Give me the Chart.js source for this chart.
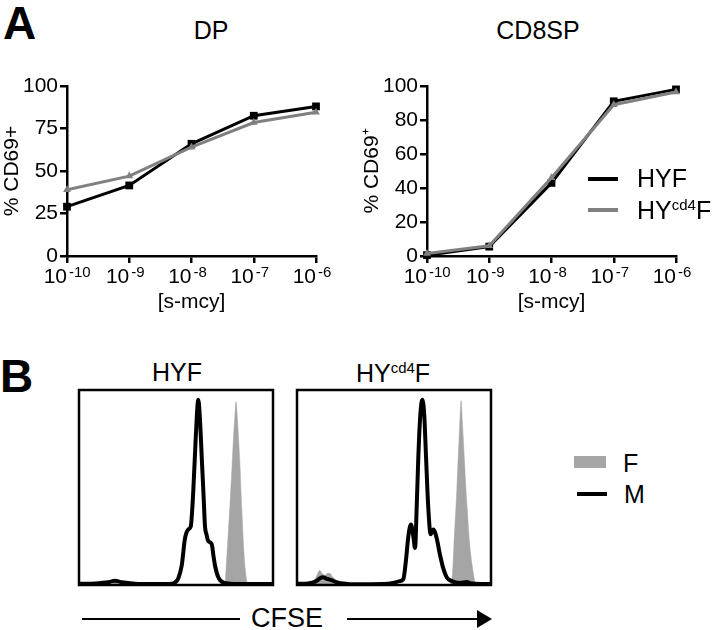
<!DOCTYPE html>
<html>
<head>
<meta charset="utf-8">
<script src="https://cdn.jsdelivr.net/npm/chart.js@4.4.1/dist/chart.umd.min.js"></script>
<style>
  body { margin: 0; background: #fff; }
  #fig { position: relative; width: 720px; height: 630px; overflow: hidden;
         font-family: "Liberation Sans", Arial, sans-serif; color: #000; }
  .t { position: absolute; line-height: 1; white-space: nowrap; }
  .c { transform: translateX(-50%); }
  .sup { font-size: 15px; vertical-align: 9px; }
  canvas { position: absolute; }
  .bar { position: absolute; }
</style>
</head>
<body>
<div id="fig">
  <!-- panel A -->
  <div class="t" style="left:3px;top:0px;font-size:46px;font-weight:bold">A</div>
  <div class="t c" style="left:211px;top:18px;font-size:25px">DP</div>
  <div class="t c" style="left:538px;top:18px;font-size:25px">CD8SP</div>
  <canvas id="dp" width="345" height="260" style="left:0;top:60px"></canvas>
  <canvas id="cd8" width="345" height="260" style="left:360px;top:60px"></canvas>

  <div class="bar" style="left:588px;top:177px;width:30px;height:4px;background:#000"></div>
  <div class="bar" style="left:588px;top:208px;width:30px;height:4px;background:#808080"></div>
  <div class="t" style="left:637px;top:166px;font-size:25px">HYF</div>
  <div class="t" style="left:637px;top:197px;font-size:25px">HY<span class="sup">cd4</span>F</div>

  <!-- panel B -->
  <div class="t" style="left:0px;top:353px;font-size:46px;font-weight:bold">B</div>
  <div class="t c" style="left:177px;top:360px;font-size:25px">HYF</div>
  <div class="t c" style="left:393px;top:360px;font-size:25px">HY<span class="sup">cd4</span>F</div>
  <canvas id="h1" width="200" height="201" style="left:76px;top:387px"></canvas>
  <canvas id="h2" width="200" height="201" style="left:294px;top:387px"></canvas>

  <div class="bar" style="left:574px;top:456px;width:32px;height:12px;background:#a5a5a5"></div>
  <div class="bar" style="left:577px;top:492px;width:30px;height:4px;background:#000"></div>
  <div class="t" style="left:623px;top:451px;font-size:25px">F</div>
  <div class="t" style="left:624px;top:482px;font-size:25px">M</div>

  <div class="bar" style="left:82px;top:618px;width:158px;height:2px;background:#000"></div>
  <div class="t c" style="left:287px;top:605px;font-size:27px">CFSE</div>
  <div class="bar" style="left:347px;top:618px;width:132px;height:2px;background:#000"></div>
  <div class="bar" style="left:477px;top:610px;width:0;height:0;border-left:15px solid #000;border-top:9px solid transparent;border-bottom:9px solid transparent"></div>
</div>

<script>
// log10 of [s-mcy] concentration
const doses = [-10, -9, -8, -7, -6];

// % CD69+ , DP
const dpHYF    = [29, 41.5, 66, 82.5, 88];
const dpHYcd4F = [39, 47, 64, 78.5, 84.5];
// % CD69+ , CD8SP
const cd8HYF    = [0.5, 5.5, 43, 91, 98];
const cd8HYcd4F = [1.5, 6, 46, 89, 96.5];

// CFSE histograms, channel 0-200, % of max
const hyfMch = [0, 16.5, 29.9, 37.1, 44.3, 57.7, 78.4, 95.9, 99, 102.4, 105.9, 109.3, 112.7, 115.2, 117.8, 120.3, 123, 124.7, 126.5, 128.5, 129.9, 131.4, 133.3, 136.8, 138.6, 140.2, 143.6, 148.8, 155.7, 176.3, 200];
const hyfM   = [0.6, 0.8, 1.4, 2.2, 1.4, 0.7, 0.5, 0.7, 1.3, 3.5, 10, 24, 28.5, 30, 48, 75, 95, 85, 66, 45, 30, 26, 22.5, 21, 15, 10, 4, 1.2, 0.7, 0.5, 0.5];
const hyfFch = [0, 32, 37.1, 42.3, 147.4, 150.5, 151.6, 153.3, 154.9, 156.4, 157.8, 159.1, 160.6, 161.9, 163.2, 164.6, 166, 167, 168.2, 169.4, 171.2, 173.5, 175.3, 200];
const hyfF   = [0, 0, 1, 0, 0, 1, 8, 22, 35, 48, 61, 74, 86, 94, 86, 74, 61, 48, 35, 22, 9, 1, 0, 0];

const cd4Mch = [0, 8.2, 15.5, 19.9, 23.7, 26.8, 30.2, 35.4, 40.5, 47.4, 54.6, 88.7, 99, 105.9, 109.6, 112.4, 114.8, 117.5, 119.9, 121.7, 123.4, 125.1, 127.1, 129.2, 131.2, 133, 135.3, 137.8, 140.5, 144, 147.4, 150.8, 154.3, 159.5, 168, 175, 180.4, 200];
const cd4M   = [0.6, 0.6, 1.2, 2, 3.5, 4, 3.3, 2.5, 1.5, 0.8, 0.4, 0.5, 1, 2, 3, 13, 25, 31, 25, 19, 40, 66, 87, 95, 87, 66, 40, 26, 28.5, 24, 15.5, 8.5, 4, 2, 1, 1.5, 0.8, 0.5];
const cd4Fch = [0, 11.3, 16.5, 20.6, 23.4, 25.8, 28.6, 30.9, 33.7, 36.1, 38.9, 42.3, 47.4, 54.6, 155.7, 159.5, 160.8, 161.9, 163.3, 164.7, 165.8, 167, 168.1, 169.1, 170.4, 171.5, 172.9, 174.3, 176, 177.8, 180, 182.1, 183.6, 185.6, 200];
const cd4F   = [0, 0, 1.5, 5, 7.6, 6, 5, 5.8, 6, 4.5, 3, 2, 1, 0, 0, 2, 10, 22, 35, 48, 61, 74, 86, 94.5, 84, 74, 61, 48, 35, 22, 12, 5, 1, 0, 0];

const FONT = '"Liberation Sans", Arial, sans-serif';
const GRAY = '#808080';
const FILLGRAY = '#a5a5a5';

function pts(xs, ys) {
  return xs.map((x, i) => ({ x: x, y: ys[i] }));
}

// x tick labels as 10 with raised exponent
const expTicks = {
  id: 'expTicks',
  afterDraw(chart) {
    const sx = chart.scales.x;
    const ctx = chart.ctx;
    const y = chart.chartArea.bottom;
    ctx.save();
    ctx.fillStyle = '#000';
    ctx.textBaseline = 'alphabetic';
    doses.forEach(d => {
      const x = sx.getPixelForValue(d);
      ctx.font = '21px ' + FONT;
      ctx.textAlign = 'right';
      ctx.fillText('10', x, y + 27);
      ctx.font = '15px ' + FONT;
      ctx.textAlign = 'left';
      ctx.fillText(String(d), x + 2, y + 21);
    });
    ctx.restore();
  }
};

function doseChart(id, hyf, hycd4, step, yTitle) {
  return new Chart(document.getElementById(id), {
    type: 'line',
    data: {
      datasets: [
        {
          data: pts(doses, hycd4),
          borderColor: GRAY, backgroundColor: GRAY, borderWidth: 3,
          pointStyle: 'triangle', pointRadius: 4.5, pointBorderWidth: 0,
          clip: false, order: 0
        },
        {
          data: pts(doses, hyf),
          borderColor: '#000', backgroundColor: '#000', borderWidth: 3,
          pointStyle: 'rect', pointRadius: 5.5, pointBorderWidth: 0,
          clip: false, order: 1
        }
      ]
    },
    options: {
      responsive: false,
      animation: false,
      layout: { padding: { left: 0, top: 26, right: 29, bottom: 0 } },
      plugins: { legend: { display: false }, tooltip: { enabled: false } },
      scales: {
        x: {
          type: 'linear', min: -10, max: -6,
          afterFit(s) { s.height = 64; },
          ticks: { stepSize: 1, callback: () => '' },
          grid: { drawOnChartArea: false, color: '#000', lineWidth: 2.5, tickLength: 7 },
          border: { color: '#000', width: 2.5 },
          title: { display: true, text: '[s-mcy]', color: '#000', font: { family: FONT, size: 21 }, padding: { top: 0, bottom: 5 } }
        },
        y: {
          min: 0, max: 100,
          afterFit(s) { s.width = 67; },
          ticks: { stepSize: step, color: '#000', padding: 2, font: { family: FONT, size: 21 } },
          grid: { drawOnChartArea: false, color: '#000', lineWidth: 2.5, tickLength: 7 },
          border: { color: '#000', width: 2.5 },
          title: { display: true, text: yTitle, color: '#000', font: { family: FONT, size: 21 }, padding: { top: 0, bottom: 0 } }
        }
      }
    },
    plugins: [expTicks]
  });
}

doseChart('dp', dpHYF, dpHYcd4F, 25, '% CD69+');
doseChart('cd8', cd8HYF, cd8HYcd4F, 20, '% CD69\u207A');

// frame round the histogram plot area
const frame = {
  id: 'frame',
  afterDatasetsDraw(chart) {
    const a = chart.chartArea;
    const ctx = chart.ctx;
    ctx.save();
    ctx.strokeStyle = '#000';
    ctx.lineWidth = 2.5;
    ctx.strokeRect(a.left, a.top, a.right - a.left, a.bottom - a.top);
    ctx.restore();
  }
};

function histChart(id, mch, m, fch, f) {
  return new Chart(document.getElementById(id), {
    type: 'line',
    data: {
      datasets: [
        {
          data: pts(mch, m),
          borderColor: '#000', borderWidth: 4, pointRadius: 0,
          fill: false, cubicInterpolationMode: 'monotone'
        },
        {
          data: pts(fch, f),
          borderColor: FILLGRAY, backgroundColor: FILLGRAY, borderWidth: 0.5, pointRadius: 0,
          fill: 'origin', cubicInterpolationMode: 'monotone'
        }
      ]
    },
    options: {
      responsive: false,
      animation: false,
      layout: { padding: 3 },
      plugins: { legend: { display: false }, tooltip: { enabled: false } },
      scales: {
        x: { type: 'linear', min: 0, max: 200, display: false },
        y: { min: 0, max: 100, display: false }
      }
    },
    plugins: [frame]
  });
}

histChart('h1', hyfMch, hyfM, hyfFch, hyfF);
histChart('h2', cd4Mch, cd4M, cd4Fch, cd4F);
</script>
</body>
</html>
